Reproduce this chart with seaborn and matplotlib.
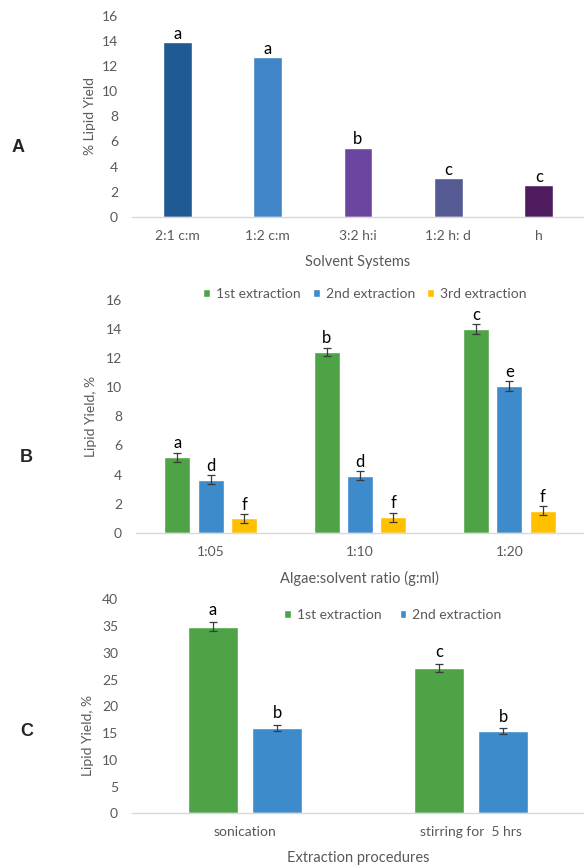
import matplotlib
matplotlib.use("Agg")
import matplotlib.pyplot as plt
import seaborn as sns
import pandas as pd
import numpy as np

# ---------------- data ----------------
solvent_systems = ["2:1 c:m", "1:2 c:m", "3:2 h:i", "1:2 h: d", "h"]
solvent_yield = [13.9, 12.7, 5.5, 3.05, 2.5]
solvent_letters = ["a", "a", "b", "c", "c"]
solvent_colors = ["#1F5A92", "#3F85C8", "#6C45A0", "#565A92", "#4E1C5E"]

ratios = ["1:05", "1:10", "1:20"]
extractions_b = ["1st extraction", "2nd extraction", "3rd extraction"]
ratio_1st = [5.18, 12.43, 14.0]
ratio_2nd = [3.65, 3.9, 10.08]
ratio_3rd = [1.0, 1.06, 1.51]
ratio_err_1st = [0.33, 0.3, 0.34]
ratio_err_2nd = [0.3, 0.31, 0.34]
ratio_err_3rd = [0.3, 0.32, 0.31]
ratio_letters_1st = ["a", "b", "c"]
ratio_letters_2nd = ["d", "d", "e"]
ratio_letters_3rd = ["f", "f", "f"]

procedures = ["sonication", "stirring for  5 hrs"]
extractions_c = ["1st extraction", "2nd extraction"]
proc_1st = [34.9, 27.2]
proc_2nd = [15.9, 15.3]
proc_err_1st = [0.78, 0.78]
proc_err_2nd = [0.6, 0.56]
proc_letters_1st = ["a", "c"]
proc_letters_2nd = ["b", "b"]

GREEN = "#4EA346"
BLUE = "#3D8BCB"
YELLOW = "#FFC000"

# ---------------- style ----------------
sns.set_style("white")
plt.rcParams["font.family"] = ["Lato", "DejaVu Sans"]
TICK_C = "#595959"
FS = 10

fig = plt.figure(figsize=(5.84, 8.65), dpi=100)


def style_axis(ax, ymax, step):
    ax.set_ylim(0, ymax)
    ax.set_yticks(np.arange(0, ymax + 0.1, step))
    for s in ["left", "right", "top"]:
        ax.spines[s].set_visible(False)
    ax.spines["bottom"].set_color("#D9D9D9")
    ax.spines["bottom"].set_linewidth(1.0)
    ax.tick_params(axis="both", length=0, colors=TICK_C, labelsize=FS)
    ax.tick_params(axis="y", pad=10)
    ax.tick_params(axis="x", pad=9.5)


def letter(ax, x, y, s, off=2.5):
    ax.annotate(s, xy=(x, y), xytext=(0, off), textcoords="offset points",
                ha="center", va="baseline", fontsize=12, color="black")


# ---------------- panel A ----------------
axA = fig.add_axes([132 / 584, 1 - 216.7 / 865, 452 / 584, (216.7 - 16) / 865])
dfA = pd.DataFrame({"system": solvent_systems, "yield": solvent_yield})
sns.barplot(data=dfA, x="system", y="yield", hue="system", palette=solvent_colors,
            width=0.32, legend=False, ax=axA, saturation=1)
axA.set_xlim(-0.5, 4.5)
style_axis(axA, 16, 2)
axA.set_ylabel("% Lipid Yield", fontsize=FS, color=TICK_C)
axA.set_xlabel("Solvent Systems", fontsize=FS + 0.5, color=TICK_C)
axA.yaxis.set_label_coords(-0.08, 0.5)
axA.xaxis.set_label_coords(0.5, -0.191)
for i, (v, s) in enumerate(zip(solvent_yield, solvent_letters)):
    letter(axA, i, v, s)

# ---------------- panel B ----------------
axB = fig.add_axes([136 / 584, 1 - 532.7 / 865, 448 / 584, (532.7 - 300) / 865])
dfB = pd.DataFrame({
    "ratio": ratios * 3,
    "extraction": np.repeat(extractions_b, 3),
    "value": ratio_1st + ratio_2nd + ratio_3rd,
})
sns.barplot(data=dfB, x="ratio", y="value", hue="extraction",
            palette=[GREEN, BLUE, YELLOW], width=0.67, gap=0.22,
            errorbar=None, ax=axB, saturation=1)
axB.set_xlim(-0.5, 2.5)
style_axis(axB, 16, 2)
errsB = [ratio_err_1st, ratio_err_2nd, ratio_err_3rd]
valsB = [ratio_1st, ratio_2nd, ratio_3rd]
letsB = [ratio_letters_1st, ratio_letters_2nd, ratio_letters_3rd]
for cont, vals, errs, lets in zip(axB.containers, valsB, errsB, letsB):
    xs = [b.get_x() + b.get_width() / 2 for b in cont]
    axB.errorbar(xs, vals, yerr=errs, fmt="none", ecolor="#3A3A3A",
                 elinewidth=0.9, capsize=2.8, capthick=0.9)
    for x, v, e, s in zip(xs, vals, errs, lets):
        letter(axB, x, v + e, s, off=3)
axB.set_ylabel("Lipid Yield, %", fontsize=FS, color=TICK_C)
axB.set_xlabel("Algae:solvent ratio (g:ml)", fontsize=FS + 0.5, color=TICK_C)
axB.yaxis.set_label_coords(-0.0874, 0.5)
axB.xaxis.set_label_coords(0.4987, -0.1624)
axB.legend(loc="center", bbox_to_anchor=(0.511, 1.026), ncol=3, frameon=False,
           fontsize=FS, handlelength=0.5, handleheight=0.5, handletextpad=0.4,
           columnspacing=0.9, labelcolor=TICK_C, borderaxespad=0)

# ---------------- panel C ----------------
axC = fig.add_axes([132 / 584, 1 - 813.3 / 865, 452 / 584, (813.3 - 599.3) / 865])
dfC = pd.DataFrame({
    "procedure": procedures * 2,
    "extraction": np.repeat(extractions_c, 2),
    "value": proc_1st + proc_2nd,
})
sns.barplot(data=dfC, x="procedure", y="value", hue="extraction",
            palette=[GREEN, BLUE], width=0.57, gap=0.22,
            errorbar=None, ax=axC, saturation=1)
axC.set_xlim(-0.5, 1.5)
style_axis(axC, 40, 5)
errsC = [proc_err_1st, proc_err_2nd]
valsC = [proc_1st, proc_2nd]
letsC = [proc_letters_1st, proc_letters_2nd]
for cont, vals, errs, lets in zip(axC.containers, valsC, errsC, letsC):
    xs = [b.get_x() + b.get_width() / 2 for b in cont]
    axC.errorbar(xs, vals, yerr=errs, fmt="none", ecolor="#3A3A3A",
                 elinewidth=0.9, capsize=2.8, capthick=0.9)
    for x, v, e, s in zip(xs, vals, errs, lets):
        letter(axC, x, v + e, s, off=5)
axC.set_ylabel("Lipid Yield, %", fontsize=FS, color=TICK_C)
axC.set_xlabel("Extraction procedures", fontsize=FS + 0.5, color=TICK_C)
axC.yaxis.set_label_coords(-0.0843, 0.366)
axC.xaxis.set_label_coords(0.5, -0.176)
axC.legend(loc="center", bbox_to_anchor=(0.577, 0.927), ncol=2, frameon=False,
           fontsize=FS, handlelength=0.5, handleheight=0.5, handletextpad=0.4,
           columnspacing=1.3, labelcolor=TICK_C, borderaxespad=0)

# ---------------- panel letters ----------------
for s, x, y in [("A", 18, 147), ("B", 26, 457), ("C", 27, 732)]:
    fig.text(x / 584, 1 - y / 865, s, fontsize=13, fontweight="bold",
             family=["Liberation Sans", "DejaVu Sans"], ha="center", va="center")

fig.savefig("out.png", dpi=100)
